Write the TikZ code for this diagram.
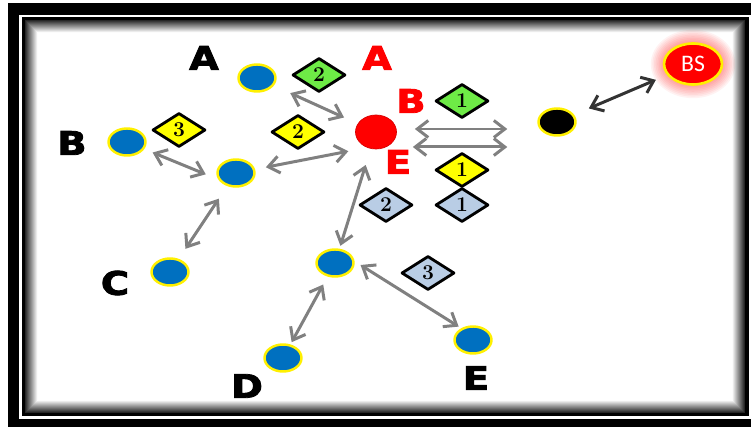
\documentclass[tikz,border=0pt]{standalone}
\usepackage{fontspec}
\usepackage{tikz}
\usetikzlibrary{arrows.meta,shapes.geometric}
\usepackage{xcolor}
\newfontfamily\heavyfont{DejaVu Sans Bold}[FakeBold=2.4]
\newfontfamily\bsfont{Carlito}
\definecolor{moteblue}{RGB}{0, 112, 192}
\definecolor{ringyellow}{RGB}{255, 240, 0}
\definecolor{linkgray}{RGB}{128, 128, 128}
\definecolor{tagyellow}{RGB}{255, 255, 0}
\definecolor{taggreen}{RGB}{110, 235, 70}
\definecolor{tagblue}{RGB}{185, 205, 229}
\definecolor{alarmred}{RGB}{255, 0, 0}

\begin{document}
\begin{tikzpicture}[x=0.02cm, y=-0.02cm, >={Straight Barb[length=0.22cm,width=0.34cm]},
    mote/.style={ellipse, fill=moteblue, draw=ringyellow, line width=1.4pt,
      minimum width=0.74cm, minimum height=0.54cm, inner sep=0pt},
    tag/.style={diamond, draw=black, line width=1.6pt, line join=round,
      minimum width=1.06cm, minimum height=0.68cm, inner sep=0pt,
      font=\bfseries\fontsize{12}{12}\selectfont},
    letter/.style={font=\heavyfont\fontsize{18.5}{18.5}\selectfont, xscale=1.18, inner sep=0pt},
    link/.style={<->, linkgray, line width=1.7pt}]
    \useasboundingbox (0,0) rectangle (751,428);
    \fill[white] (0,0) rectangle (751,428);
    % double frame with a soft inner edge
    \fill[black] (8,3) rectangle (756,427);
    \fill[white] (19,15) rectangle (753,419);
    \fill[black] (21.5,17) rectangle (749,416);
    \foreach \i in {0,...,12}
      \fill[black!\fpeval{85-7*\i}] (25+\i,20+\i) rectangle (745-\i,413-\i);
    \fill[white] (38,33) rectangle (732,400);

    \node[mote] (A) at (257,78) {};
    \node[mote] (B) at (127,142) {};
    \node[mote] (H) at (236,173) {};
    \node[mote] (C) at (170,272) {};
    \node[mote] (J) at (335,263) {};
    \node[mote] (D) at (283,358) {};
    \node[mote] (E) at (473,340) {};
    \node[ellipse, fill=alarmred, draw=alarmred!85!black, line width=0.4pt,
      minimum width=0.82cm, minimum height=0.68cm, inner sep=0pt] (red) at (376,132) {};
    \node[mote, fill=black] (sink) at (557,122) {};

    \coordinate (bspos) at (693,64);
    \foreach \g in {0,...,7}
      \fill[alarmred, opacity=0.05] (bspos) ellipse [x radius=31+1.6*\g, y radius=23+1.6*\g];
    \node[ellipse, fill=alarmred, draw=ringyellow, line width=1.5pt,
      minimum width=1.16cm, minimum height=0.82cm, inner sep=0pt,
      text=white, font=\bsfont\fontsize{13.5}{13.5}\selectfont] (BS) at (bspos) {BS};

    \node[letter] (lA) at (204,58) {A};
    \node[letter] (lB) at (72,143) {B};
    \node[letter] (lC) at (115,283) {C};
    \node[letter] (lD) at (247,386) {D};
    \node[letter] (lE) at (476,378) {E};
    \node[letter, alarmred] (rA) at (377,58) {A};
    \node[letter, alarmred] (rB) at (411,101) {B};
    \node[letter, alarmred] (rE) at (398,162) {E};

    \node[tag, fill=taggreen] (g2) at (319,75) {2};
    \node[tag, fill=taggreen] (g1) at (462,101) {1};
    \node[tag, fill=tagyellow] (y3) at (179,130) {3};
    \node[tag, fill=tagyellow] (y2) at (298,132) {2};
    \node[tag, fill=tagyellow] (y1) at (462,170) {1};
    \node[tag, fill=tagblue] (b1) at (462,205) {1};
    \node[tag, fill=tagblue] (b2) at (386,205) {2};
    \node[tag, fill=tagblue] (b3) at (428,273) {3};

    \draw[link, shorten <=0.36cm, shorten >=0.3cm] (A) -- (red);
    \draw[link, shorten <=0.18cm, shorten >=0.27cm] (B) -- (H.200);
    \draw[link, shorten <=0.22cm, shorten >=0.38cm] (H) -- (red.240);
    \draw[link, shorten <=0.24cm, shorten >=0.3cm] (C) -- (H);
    \draw[link, shorten <=0.06cm, shorten >=0.34cm] (J) -- (red);
    \draw[link, shorten <=0.14cm, shorten >=0.06cm] (J.5) -- (E.135);
    \draw[link, shorten <=0.18cm, shorten >=0.05cm] (J) -- (D);
    \coordinate (up) at ([yshift=0.06cm]red.east);
    \coordinate (dn) at ([yshift=-0.3cm]red.east);
    \draw[link, shorten <=0.36cm, shorten >=0.6cm] (up) -- (up -| sink.west);
    \draw[link, shorten <=0.32cm, shorten >=0.6cm] (dn) -- (dn -| sink.west);
    \draw[link, black!80, shorten <=0.32cm, shorten >=0.24cm] (sink) -- (BS);
\end{tikzpicture}
\end{document}
